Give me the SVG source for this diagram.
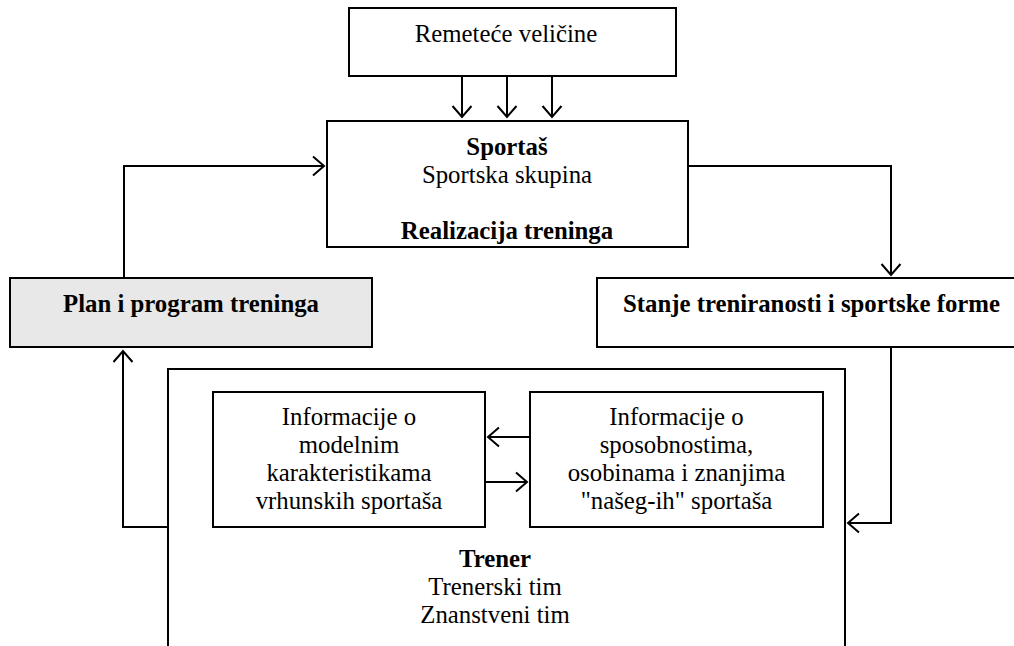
<svg xmlns="http://www.w3.org/2000/svg" width="1014" height="646" viewBox="0 0 1014 646">
<style>
.box{fill:#ffffff;stroke:#000;stroke-width:2}
.gray{fill:#e8e8e8}
.t{font-family:"Liberation Serif","Times New Roman",serif;font-size:24.8px;fill:#000;text-anchor:middle}
.b{font-weight:bold}
.c{fill:none;stroke:#000;stroke-width:2}
</style>
<defs>
<marker id="ah" markerUnits="userSpaceOnUse" viewBox="-14 -12 16 24" refX="0" refY="0" markerWidth="16" markerHeight="24" orient="auto" overflow="visible">
<path d="M-11,-9.5 L0,0 L-11,9.5" fill="none" stroke="#000" stroke-width="2"/>
</marker>
</defs>
<rect width="1014" height="646" fill="#fff"/>
<g id="trener">
<path class="box" d="M168,660 L168,369 L845,369 L845,660"/>
<text class="t b" x="495" y="567">Trener</text>
<text class="t" x="495" y="595">Trenerski tim</text>
<text class="t" x="495" y="623">Znanstveni tim</text>
</g>
<g id="remetece">
<rect class="box" x="349" y="8" width="327" height="68"/>
<text class="t" x="506" y="42">Remeteće veličine</text>
</g>
<g id="sportas">
<rect class="box" x="327" y="121" width="361" height="126"/>
<text class="t b" x="507" y="155">Sportaš</text>
<text class="t" x="507" y="183">Sportska skupina</text>
<text class="t b" x="507" y="239">Realizacija treninga</text>
</g>
<g id="plan">
<rect class="box gray" x="10" y="278" width="362" height="69"/>
<text class="t b" x="191" y="312">Plan i program treninga</text>
</g>
<g id="stanje">
<rect class="box" x="597" y="278" width="430" height="69"/>
<text class="t b" x="811.5" y="312">Stanje treniranosti i sportske forme</text>
</g>
<g id="info-model">
<rect class="box" x="213" y="392" width="272" height="135"/>
<text class="t" x="349" y="425">Informacije o</text>
<text class="t" x="349" y="453">modelnim</text>
<text class="t" x="349" y="481">karakteristikama</text>
<text class="t" x="349" y="509">vrhunskih sportaša</text>
</g>
<g id="info-nasi">
<rect class="box" x="530" y="392" width="293" height="135"/>
<text class="t" x="676.5" y="425">Informacije o</text>
<text class="t" x="676.5" y="453">sposobnostima,</text>
<text class="t" x="676.5" y="481">osobinama i znanjima</text>
<text class="t" x="676.5" y="509">"našeg-ih" sportaša</text>
</g>
<g id="connectors">
<path class="c" d="M462,76 L462,117" marker-end="url(#ah)"/>
<path class="c" d="M507,76 L507,117" marker-end="url(#ah)"/>
<path class="c" d="M552,76 L552,117" marker-end="url(#ah)"/>
<path class="c" d="M124,278 L124,166 L324,166" marker-end="url(#ah)"/>
<path class="c" d="M688,166 L891,166 L891,275" marker-end="url(#ah)"/>
<path class="c" d="M891,347 L891,523 L848,523" marker-end="url(#ah)"/>
<path class="c" d="M168,527 L123,527 L123,351" marker-end="url(#ah)"/>
<path class="c" d="M530,437 L488,437" marker-end="url(#ah)"/>
<path class="c" d="M485,482 L527,482" marker-end="url(#ah)"/>
</g>
</svg>
